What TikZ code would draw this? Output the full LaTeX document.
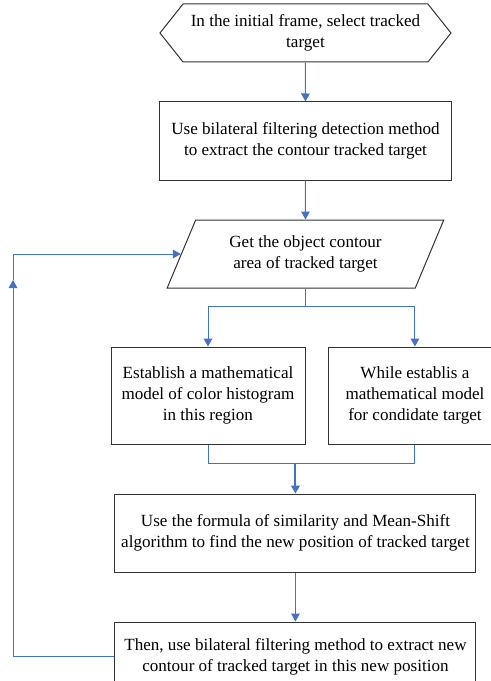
\documentclass[tikz,border=0pt]{standalone}
\usepackage{fontspec}
\setmainfont{Liberation Serif}
\usepackage{tikz}
\usetikzlibrary{positioning, shapes.geometric, shapes.symbols, arrows.meta}
\definecolor{linkblue}{HTML}{4472C4}
\tikzset{
    base/.style={draw=black!80, line width=0.75pt, align=center, inner sep=2pt, font=\fontsize{12.8pt}{15.75pt}\selectfont},
    prep/.style={base, signal, signal to=west and east, signal pointer angle=103, minimum width=218.25pt, minimum height=43.5pt},
    proc/.style={base, rectangle, minimum width=219pt, minimum height=58.5pt},
    io/.style={base, trapezium, trapezium left angle=64, trapezium right angle=116, trapezium stretches=true, minimum width=207.75pt, minimum height=51pt},
    flow/.style={draw=linkblue, line width=0.75pt, -{Triangle[length=6pt, width=6.5pt]}},
    link/.style={draw=linkblue, line width=0.75pt},
}

\begin{document}
\begin{tikzpicture}
    \useasboundingbox (0,0) rectangle (368.25pt,-510.75pt);
    \clip (0,0) rectangle (368.25pt,-510.75pt);
    \node [prep] (start) at (229.1pt,-24.75pt) {In the initial frame, select tracked\\target};
    \node [proc] (extract) [below=29.25pt of start] {Use bilateral filtering detection method\\to extract the contour tracked target};
    \node [io] (contour) [below=29.25pt of extract] {Get the object contour\\area of tracked target};
    \node [proc, minimum width=145.5pt, minimum height=72.75pt] (model) [below=43.5pt of contour, xshift=-73.1pt] {Establish a mathematical\\model of color histogram\\in this region};
    \node [proc, minimum width=129pt, minimum height=72.75pt] (cand) [below=43.5pt of contour, xshift=82.1pt] {While establis a\\mathematical model\\for condidate target};
    \node [proc, minimum width=270.75pt] (search) [below=36.75pt of model, xshift=65.6pt] {Use the formula of similarity and Mean-Shift\\algorithm to find the new position of tracked target};
    \node [proc, minimum width=270.75pt, minimum height=51.75pt] (update) [below=36.75pt of search] {Then, use bilateral filtering method to extract new\\contour of tracked target in this new position};
    \coordinate (back) at (9.75pt,-210pt);
    \coordinate (join) at ([yshift=22.5pt]search.north);
    \draw[flow] (start) -- (extract);
    \draw[flow] (extract) -- (contour);
    \draw[link] (contour.south) -- ++(0,-13.5pt) coordinate (split);
    \draw[flow] (split) -| (model);
    \draw[flow] (split) -| (cand);
    \draw[link] (model) |- (join) -| (cand);
    \draw[flow, line width=1.5pt] (join) -- (search);
    \draw[flow] (search) -- (update);
    \draw[flow] (update.west) -| (back);
    \draw[flow] (back) |- (contour.west);
\end{tikzpicture}
\end{document}
